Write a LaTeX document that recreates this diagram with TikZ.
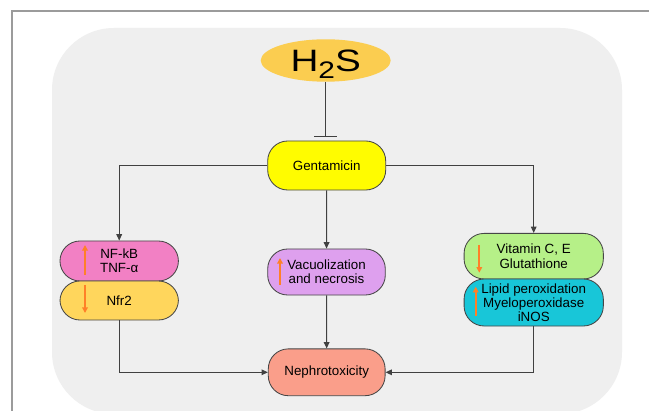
\documentclass[tikz,border=0pt]{standalone}
\usepackage{fontspec}
\setmainfont{Liberation Sans}
\usepackage{graphicx}
\usetikzlibrary{arrows.meta,shapes.geometric}
\definecolor{bggray}{RGB}{239,239,239}
\definecolor{framegray}{RGB}{155,155,155}
\definecolor{linegray}{RGB}{64,64,64}
\definecolor{boxline}{RGB}{70,70,70}
\definecolor{h2sgold}{RGB}{251,205,80}
\definecolor{gentyellow}{RGB}{255,252,0}
\definecolor{nfpink}{RGB}{242,128,196}
\definecolor{nfryellow}{RGB}{255,214,92}
\definecolor{vaclilac}{RGB}{222,160,238}
\definecolor{nephsalmon}{RGB}{250,158,138}
\definecolor{vitgreen}{RGB}{182,240,136}
\definecolor{lipcyan}{RGB}{24,198,216}
\definecolor{arrorange}{RGB}{255,128,40}
\begin{document}
\begin{tikzpicture}[x=0.025cm, y=-0.025cm,
        font=\fontsize{9.5}{10}\selectfont,
        pill/.style={draw=boxline, line width=0.6pt, rounded corners=0.5cm, align=center, inner sep=1pt},
        flow/.style={draw=linegray, line width=0.7pt, -{Triangle[length=4.5pt, width=4pt]}},
        updown/.style={draw=arrorange, line width=1.4pt, -{Triangle[length=4pt, width=4pt]}}]
            \clip (0,0) rectangle (649,411);
            \fill[white] (0,0) rectangle (649,411);
            \draw[framegray, line width=1pt] (12,411) -- (12,11) -- (649,11);
            \fill[bggray, rounded corners=1.55cm] (52,28) rectangle (622,414);

            \node[ellipse, fill=h2sgold, minimum width=3.25cm, minimum height=1.06cm, inner sep=0pt] (h2s) at (325.7,60.5)
                {\scalebox{1.25}[1]{\fontsize{22}{22}\selectfont H\smash{\raisebox{-0.24em}{\fontsize{17}{17}\selectfont 2}}S}};

            \node[pill, fill=gentyellow, minimum width=2.95cm, minimum height=1.225cm] (genta) at (326.7,165.5) {Gentamicin};
            \node[pill, fill=nfpink, minimum width=2.96cm, minimum height=1.0cm] (nfkb) at (119.2,261) {NF-kB\\TNF-α};
            \node[pill, fill=nfryellow, minimum width=2.96cm, minimum height=0.975cm] (nfr) at (119.2,300.5) {Nfr2};
            \node[pill, fill=vaclilac, minimum width=2.94cm, minimum height=1.15cm] (vacuo) at (326.5,272) {Vacuolization\\and necrosis};
            \node[pill, fill=nephsalmon, minimum width=2.92cm, minimum height=1.17cm] (nephro) at (326.7,372.3) {Nephrotoxicity};
            \node[pill, fill=vitgreen, minimum width=3.48cm, minimum height=1.14cm] (vitc) at (533.7,256.2) {Vitamin C, E\\Glutathione};
            \node[pill, fill=lipcyan, minimum width=3.48cm, minimum height=1.175cm] (lipid) at (533.7,302.5) {Lipid peroxidation\\Myeloperoxidase\\iNOS};

            \draw[updown] (85,275) -- (85,245);
            \draw[updown] (85,285) -- (85,313);
            \draw[updown] (280,285) -- (280,258);
            \draw[updown] (479.3,245) -- (479.3,272.7);
            \draw[updown] (475.7,315.7) -- (475.7,286.7);

            \draw[linegray, line width=0.7pt, -{Bar[width=16pt]}, shorten >=2.8pt] (h2s.south) -- (h2s.south |- genta.north);
            \draw[flow] (genta.west) -| (nfkb.north);
            \draw[flow] (genta) -- (vacuo);
            \draw[flow] (genta.east) -| (vitc.north);
            \draw[flow] (vacuo) -- (nephro);
            \draw[flow] (nfr.south) |- (nephro.west);
            \draw[flow] (lipid.south) |- (nephro.east);
        \end{tikzpicture}
\end{document}
